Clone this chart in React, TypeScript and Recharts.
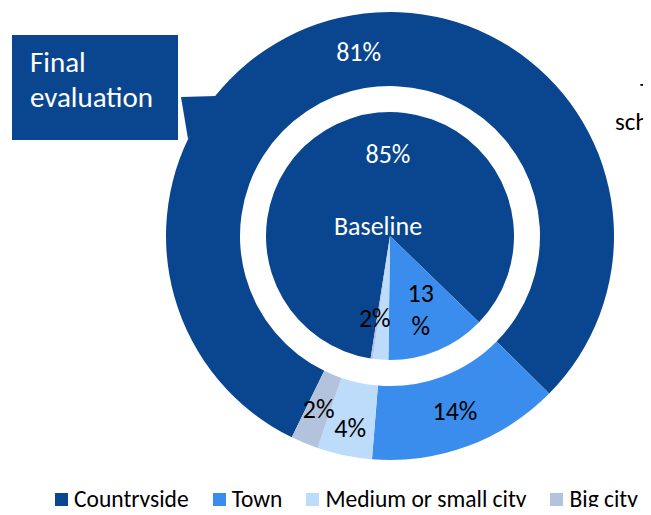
import React from "react";
import { PieChart, Pie, Cell, Legend } from "recharts";

const categories = ["Countryside", "Town", "Medium or small city", "Big city"];
const colors = ["#0A4690", "#3B8DED", "#BDDBFB", "#B4C3DD"];

// Final evaluation (outer ring)
const finalValues = [81, 14, 4, 2];
const finalLabels = ["81%", "14%", "4%", "2%"];

// Baseline (inner pie)
const baselineValues = [85, 13, 2, 0.3];
const baselineLabels = ["85%", "13\n%", "2%", ""];

const FONT = "Carlito, Calibri, Lato, sans-serif";
const RAD = Math.PI / 180;

const finalData = categories.map((name, i) => ({ name, value: finalValues[i] }));
const baselineData = categories.map((name, i) => ({ name, value: baselineValues[i] }));

const outerLabel = (props: any) => {
  const { cx, cy, midAngle, index } = props;
  const r = index === 2 ? 196 : 187;
  const x = cx + r * Math.cos(-midAngle * RAD);
  const y = cy + r * Math.sin(-midAngle * RAD);
  return (
    <text
      x={x}
      y={y}
      textAnchor="middle"
      dominantBaseline="central"
      fill={index === 0 ? "#fff" : "#000"}
      fontSize={26}
      fontFamily={FONT}
    >
      {finalLabels[index]}
    </text>
  );
};

const innerLabel = (props: any) => {
  const { cx, cy, midAngle, index } = props;
  const text = baselineLabels[index];
  if (!text) return null;
  if (index === 0) {
    return (
      <g fontFamily={FONT} fill="#fff" fontSize={26}>
        <text x={cx - 2} y={cy - 82} textAnchor="middle" dominantBaseline="central">
          {text}
        </text>
        <text x={cx - 12} y={cy - 10} textAnchor="middle" dominantBaseline="central">
          Baseline
        </text>
      </g>
    );
  }
  const r = index === 1 ? 80 : 82;
  const dx = index === 2 ? -9 : 0;
  const x = cx + r * Math.cos(-midAngle * RAD) + dx;
  const y = cy + r * Math.sin(-midAngle * RAD);
  const lines = text.split("\n");
  return (
    <text
      x={x}
      y={y - ((lines.length - 1) * 33) / 2}
      textAnchor="middle"
      dominantBaseline="central"
      fill="#000"
      fontSize={26}
      fontFamily={FONT}
    >
      {lines.map((l, i) => (
        <tspan key={i} x={x} dy={i === 0 ? 0 : 33}>
          {l}
        </tspan>
      ))}
    </text>
  );
};

const renderLegend = () => (
  <div
    style={{
      display: "flex",
      alignItems: "center",
      paddingLeft: 55,
      fontFamily: FONT,
      fontSize: 23.5,
      lineHeight: "28px",
      color: "#000",
      whiteSpace: "nowrap",
    }}
  >
    {categories.map((c, i) => (
      <div key={c} style={{ display: "flex", alignItems: "center", marginRight: 24 }}>
        <span style={{ width: 13, height: 13, background: colors[i], marginRight: 6, display: "inline-block" }} />
        <span>{c}</span>
      </div>
    ))}
  </div>
);

export default function App() {
  return (
    <div style={{ position: "relative", margin: -8, width: 651, height: 515, overflow: "hidden", background: "#fff" }}>
      <PieChart width={651} height={515} margin={{ top: 0, right: 0, bottom: 0, left: 0 }}>
        <Pie
          data={finalData}
          dataKey="value"
          cx={390}
          cy={236}
          innerRadius={150}
          outerRadius={224}
          startAngle={-116}
          endAngle={-476}
          stroke="none"
          label={outerLabel}
          labelLine={false}
          isAnimationActive={false}
        >
          {finalData.map((d, i) => (
            <Cell key={d.name} fill={colors[i]} />
          ))}
        </Pie>
        <Pie
          data={baselineData}
          dataKey="value"
          cx={390}
          cy={236}
          innerRadius={0}
          outerRadius={124}
          startAngle={-99}
          endAngle={-459}
          stroke="none"
          label={innerLabel}
          labelLine={false}
          isAnimationActive={false}
        >
          {baselineData.map((d, i) => (
            <Cell key={d.name} fill={colors[i]} />
          ))}
        </Pie>
        <Legend content={renderLegend} wrapperStyle={{ left: 0, top: 485, width: 651 }} />
      </PieChart>
      <svg width={651} height={515} style={{ position: "absolute", left: 0, top: 0, pointerEvents: "none" }}>
        <rect x={12} y={35} width={166} height={105} fill="#0A4690" />
        <polygon points="181,97 216,96 188,139" fill="#0A4690" />
        <text x={30} y={72} fill="#fff" fontSize={29} fontFamily={FONT}>
          Final
        </text>
        <text x={30} y={107} fill="#fff" fontSize={29} fontFamily={FONT}>
          evaluation
        </text>
        <text x={60} y={-2} fill="#000" fontSize={24} fontFamily={FONT}>
          y
        </text>
        <text x={640} y={100} fill="#000" fontSize={25} fontFamily={FONT}>
          T
        </text>
        <text x={615} y={130} fill="#000" fontSize={25} fontFamily={FONT}>
          sch
        </text>
      </svg>
    </div>
  );
}
